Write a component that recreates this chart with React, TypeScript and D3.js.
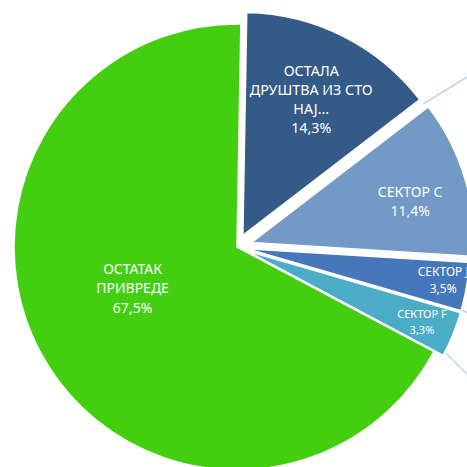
import React from "react";
import * as d3 from "d3";

const categories = ["ОСТАЛА ДРУШТВА ИЗ СТО НАЈ...", "СЕКТОР C", "СЕКТОР J", "СЕКТОР F", "ОСТАТАК ПРИВРЕДЕ"];
const labelLines = [["ОСТАЛА", "ДРУШТВА ИЗ СТО", "НАЈ..."], ["СЕКТОР C"], ["СЕКТОР J"], ["СЕКТОР F"], ["ОСТАТАК", "ПРИВРЕДЕ"]];
const values = [14.3, 11.4, 3.5, 3.3, 67.5];
const valueLabels = ["14,3%", "11,4%", "3,5%", "3,3%", "67,5%"];
const colors = ["#345A87", "#7399C7", "#4677BB", "#4BACC6", "#44CE10"];

// layout
const W = 467, H = 467;
const cx = 237, cy = 247, R = 223;
const rot = (1 * Math.PI) / 180;
const explode = [13, 15, 10, 10, 0];
const labelR = [0.682, 0.735, 0.892, 0.85, 0.504];
const labelShift = [0, 2.4, -0.6, 0, 8.8]; // degrees
const fontSizes = [14.3, 14, 12, 11, 14];
const lineH = [19.1, 19, 17.6, 16, 19.6];

export default function App() {
  const pie = d3.pie<number>().sort(null).value((d) => d).startAngle(rot).endAngle(rot + 2 * Math.PI);
  const arcs = pie(values);
  const arc = d3.arc<d3.PieArcDatum<number>>().innerRadius(0).outerRadius(R);
  const pt = (a: number, r: number) => [cx + r * Math.sin(a), cy - r * Math.cos(a)];
  const deg = Math.PI / 180;

  // connector lines toward the (off-chart) secondary plot
  const p1 = pt(arcs[1].startAngle, R + 12);
  const p2 = pt(arcs[3].endAngle - 1.5 * deg, R + 6);
  const p3 = pt(arcs[2].endAngle - 0.6 * deg, R + 5);

  return (
    <svg width={W} height={H} style={{ position: "absolute", left: 0, top: 0, background: "#fff" }}>
      <line x1={p1[0]} y1={p1[1]} x2={p1[0] + 60} y2={p1[1] - 37} stroke="#8EB4E3" strokeWidth={1} />
      <line x1={p2[0]} y1={p2[1]} x2={p2[0] + 40} y2={p2[1] + 40} stroke="#8EB4E3" strokeWidth={1} />
      <line x1={p3[0]} y1={p3[1]} x2={p3[0] + 20} y2={p3[1] + 9} stroke="#8EB4E3" strokeWidth={1} />
      {arcs.map((a, i) => {
        const mid = (a.startAngle + a.endAngle) / 2;
        const dx = explode[i] * Math.sin(mid);
        const dy = -explode[i] * Math.cos(mid);
        return (
          <path
            key={categories[i]}
            d={arc(a) || ""}
            transform={`translate(${cx + dx},${cy + dy})`}
            fill={colors[i]}
            stroke="#fff"
            strokeWidth={1.5}
            strokeLinejoin="round"
          />
        );
      })}
      {arcs.map((a, i) => {
        const mid = (a.startAngle + a.endAngle) / 2 + labelShift[i] * deg;
        const r = labelR[i] * R + explode[i];
        const [lx, ly] = pt(mid, r);
        const lines = [...labelLines[i], valueLabels[i]];
        const n = lines.length;
        return (
          <text
            key={"l" + i}
            x={lx}
            y={ly}
            fill="#fff"
            fontFamily="'Noto Sans', 'Open Sans', sans-serif"
            fontSize={fontSizes[i]}
            textAnchor="middle"
          >
            {lines.map((t, j) => (
              <tspan key={j} x={lx} y={ly + (j - (n - 1) / 2) * lineH[i]} dy="0.35em">
                {t}
              </tspan>
            ))}
          </text>
        );
      })}
    </svg>
  );
}
